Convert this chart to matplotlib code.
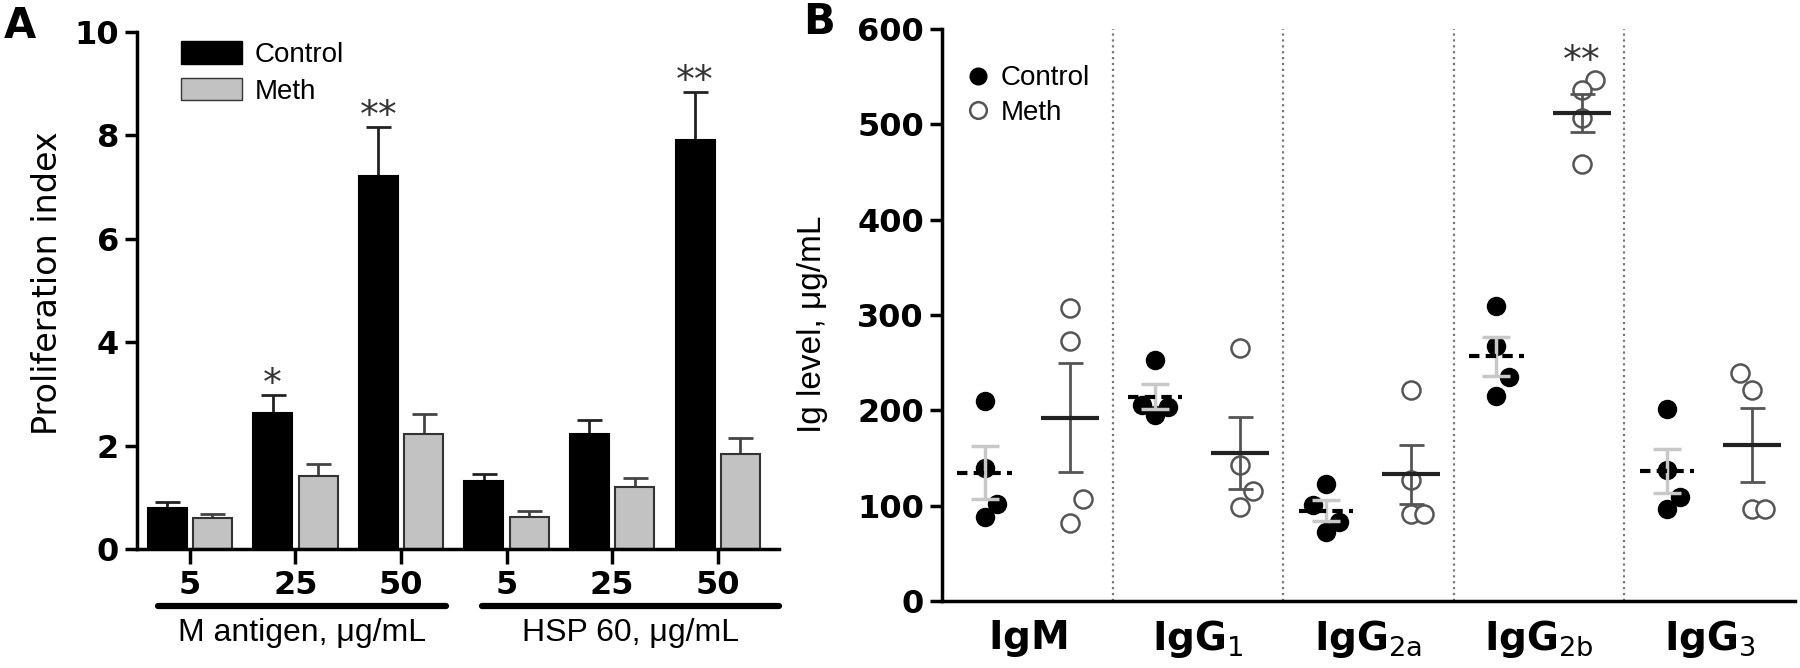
import matplotlib
matplotlib.use('Agg')

import matplotlib.pyplot as plt
import numpy as np
from matplotlib.lines import Line2D
from matplotlib.patches import Patch
import matplotlib.transforms as mtransforms

# ---- Panel A: proliferation index ----
doses = ['5', '25', '50', '5', '25', '50']
antigens = ['M antigen, μg/mL', 'HSP 60, μg/mL']
ctrl_mean = [0.79, 2.64, 7.21, 1.31, 2.23, 7.92]
ctrl_err = [0.11, 0.33, 0.95, 0.15, 0.27, 0.91]
meth_mean = [0.60, 1.42, 2.23, 0.62, 1.20, 1.84]
meth_err = [0.07, 0.23, 0.39, 0.11, 0.18, 0.31]
stars_a = ['', '*', '**', '', '', '**']

# ---- Panel B: Ig levels (individual animals) ----
isotypes = [r'$\mathbf{IgM}$', r'$\mathbf{IgG}_{\mathrm{1}}$', r'$\mathbf{IgG}_{\mathrm{2a}}$',
            r'$\mathbf{IgG}_{\mathrm{2b}}$', r'$\mathbf{IgG}_{\mathrm{3}}$']
ctrl_pts = [[210, 139.5, 101.5, 88],
            [253, 206, 203, 195],
            [123, 100.6, 82.7, 72.4],
            [309.4, 267.4, 234.7, 215.5],
            [201.2, 137.7, 109.5, 97]]
meth_pts = [[307.6, 272.7, 107.3, 81.8],
            [265, 143, 115, 98.4],
            [221.3, 126.5, 91.7, 91.7],
            [546, 536, 507, 458],
            [239.2, 221.3, 97, 97]]
stars_b = ['', '', '', '**', '']

# horizontal nudge of overlapping dots (in dot widths)
ctrl_jit = [[0, 0, 1, 0], [0, -1, 1, 0], [0, -1, 1, 0], [0, 0, 1, 0], [0, 0, 1, 0]]
meth_jit = [[0, 0, 1, 0], [0, 0, 1, 0], [0, 0, 0, 1], [1, 0, 0, 0], [-1, 0, 0, 1]]

plt.rcParams['font.family'] = 'DejaVu Sans'
fig = plt.figure(figsize=(18, 6.68), dpi=100)

# ================= A =================
axA = fig.add_axes([0.0761, 0.1781, 0.3567, 0.774])
x = np.arange(len(doses))
off, w = 0.215, 0.37
axA.errorbar(x - off, ctrl_mean, yerr=[np.zeros(6), ctrl_err], fmt='none',
             ecolor='#222222', elinewidth=2, capsize=9, capthick=2, zorder=1)
axA.errorbar(x + off, meth_mean, yerr=[np.zeros(6), meth_err], fmt='none',
             ecolor='#444444', elinewidth=2, capsize=9, capthick=2, zorder=1)
axA.bar(x - off, ctrl_mean, w, color='black', edgecolor='black', linewidth=1.5,
        label='Control', zorder=2)
axA.bar(x + off, meth_mean, w, color='#c2c2c2', edgecolor='#333333', linewidth=1.5,
        label='Meth', zorder=2)
for i, s in enumerate(stars_a):
    if s:
        axA.text(x[i] - off, ctrl_mean[i] + ctrl_err[i] - 0.15, s, ha='center',
                 va='bottom', fontsize=27, color='#333333')

axA.set_xlim(-0.5, 5.58)
axA.set_ylim(0, 10)
axA.set_yticks([0, 2, 4, 6, 8, 10])
axA.set_xticks(x)
axA.set_xticklabels(doses)
for lab in axA.get_xticklabels() + axA.get_yticklabels():
    lab.set_fontweight('bold')
    lab.set_fontsize(23)
axA.tick_params(axis='x', length=11, width=2.5, pad=4)
axA.tick_params(axis='y', length=9, width=2.5, pad=4)
for sp in ['top', 'right']:
    axA.spines[sp].set_visible(False)
for sp in ['left', 'bottom']:
    axA.spines[sp].set_linewidth(2.5)
axA.set_ylabel('Proliferation index', fontsize=24)
axA.yaxis.set_label_coords(-0.114, 0.514)

trA = mtransforms.blended_transform_factory(axA.transData, axA.transAxes)
spans = [(-0.30, 2.43), (2.77, 5.58)]
for (a, b), name in zip(spans, antigens):
    axA.add_line(Line2D([a, b], [-0.11, -0.11], transform=trA, color='black',
                        lw=4.5, solid_capstyle='round', clip_on=False))
    axA.text((a + b) / 2, -0.162, name, transform=trA, ha='center', va='center',
             fontsize=23, family='Liberation Sans')

axA.legend(handles=[Patch(facecolor='black', edgecolor='black', label='Control'),
                    Patch(facecolor='#c2c2c2', edgecolor='#333333', label='Meth')],
           loc='upper left', bbox_to_anchor=(0.03, 1.03), frameon=False,
           prop={'family': 'Liberation Sans', 'size': 20},
           handlelength=2.2, handleheight=0.85, labelspacing=0.35, handletextpad=0.45)

# ================= B =================
axB = fig.add_axes([0.5233, 0.1003, 0.4739, 0.8563])
axB.set_xlim(0, 5)
axB.set_ylim(0, 600)
for k in range(1, 5):
    axB.axvline(k, color='#777777', ls=':', lw=1.6, zorder=0)

dx = 0.075
for i in range(len(isotypes)):
    cx, mx = i + 0.25, i + 0.75
    cp = np.array(ctrl_pts[i])
    mp = np.array(meth_pts[i])
    axB.plot(cx + dx * np.array(ctrl_jit[i]), cp, 'o', ms=13, mfc='black',
             mec='black', zorder=2)
    axB.plot(mx + dx * np.array(meth_jit[i]), mp, 'o', ms=13, mfc='white',
             mec='#555555', mew=1.8, zorder=2)
    cm, cs = cp.mean(), cp.std(ddof=1) / np.sqrt(len(cp))
    mm, ms = mp.mean(), mp.std(ddof=1) / np.sqrt(len(mp))
    axB.errorbar(cx, cm, yerr=cs, fmt='none', ecolor='#c8c8c8', elinewidth=2.5,
                 capsize=10, capthick=2.5, zorder=3)
    axB.hlines(cm, cx - 0.16, cx + 0.16, colors='black', linestyles=(0, (2.5, 1.5)),
               lw=3, zorder=4)
    axB.errorbar(mx, mm, yerr=ms, fmt='none', ecolor='#555555', elinewidth=2,
                 capsize=9, capthick=2, zorder=3)
    axB.hlines(mm, mx - 0.17, mx + 0.17, colors='#222222', lw=3, zorder=4)
    if stars_b[i]:
        axB.text(mx, 565, stars_b[i], ha='center', va='center', fontsize=27,
                 color='#333333')

axB.set_yticks(range(0, 601, 100))
axB.set_xticks(np.arange(5) + 0.5)
axB.set_xticklabels(isotypes, fontsize=28)
for lab in axB.get_yticklabels():
    lab.set_fontweight('bold')
    lab.set_fontsize(23)
axB.tick_params(axis='x', length=0, pad=12)
axB.tick_params(axis='y', length=9, width=2.5, pad=4)
for sp in ['top', 'right']:
    axB.spines[sp].set_visible(False)
for sp in ['left', 'bottom']:
    axB.spines[sp].set_linewidth(2.5)
axB.set_ylabel('Ig level, μg/mL', fontsize=24, family='Liberation Sans')
axB.yaxis.set_label_coords(-0.134, 0.483)

axB.legend(handles=[Line2D([], [], ls='none', marker='o', ms=12, mfc='black',
                           mec='black', label='Control'),
                    Line2D([], [], ls='none', marker='o', ms=12, mfc='white',
                           mec='#555555', mew=1.8, label='Meth')],
           loc='upper left', bbox_to_anchor=(0.0, 0.98), frameon=False,
           prop={'family': 'Liberation Sans', 'size': 20},
           handlelength=0.8, labelspacing=0.3, handletextpad=0.4)

fig.text(0.002, 1 - 26 / 668, 'A', fontsize=30, fontweight='bold', va='center')
fig.text(0.446, 1 - 22 / 668, 'B', fontsize=30, fontweight='bold', va='center')

fig.savefig('out.png', dpi=100)
